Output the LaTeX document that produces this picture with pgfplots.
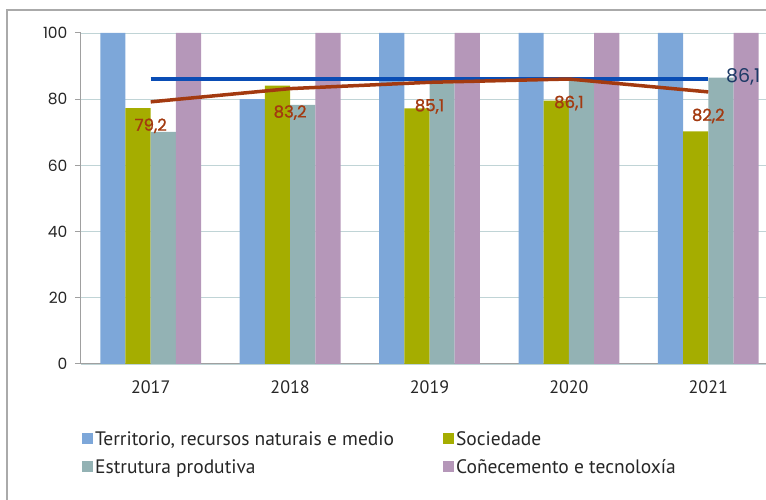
\documentclass[border=0pt]{standalone}
\usepackage{pgfplots}
\pgfplotsset{compat=1.18}
\usepackage{fontspec}
\setmainfont{PT Sans}
\newfontfamily\poppins{Poppins}
\newfontfamily\poppinsm{Poppins}[FakeBold=1.2]
\definecolor{terr}{RGB}{125,167,217}
\definecolor{soc}{RGB}{165,173,0}
\definecolor{estr}{RGB}{147,178,180}
\definecolor{cone}{RGB}{181,151,185}
\definecolor{redl}{RGB}{163,58,16}
\definecolor{bluel}{RGB}{10,77,181}
\definecolor{navyl}{RGB}{28,58,102}
\definecolor{gridc}{RGB}{192,212,214}
\definecolor{axisc}{RGB}{160,160,160}
\definecolor{framec}{RGB}{170,170,170}
\begin{document}
\begin{tikzpicture}
\path[use as bounding box] (-81pt,-136pt) rectangle (685pt,364pt);
\draw[framec, line width=1.3pt] (-74pt,-150pt) -- (-74pt,354pt) -- (700pt,354pt);
\begin{axis}[
  at={(0pt,0pt)}, anchor=south west,
  scale only axis, width=697pt, height=331pt,
  xmin=-0.5, xmax=4.5, ymin=0, ymax=100,
  ybar=0pt, bar width=25.2pt,
  xtick={0,1,2,3,4}, xticklabels={2017,2018,2019,2020,2021},
  ytick={0,20,40,60,80,100},
  /pgf/number format/assume math mode=true,
  axis x line*=bottom, axis y line*=left,
  axis line style={-, axisc, line width=1pt},
  ymajorgrids, grid style={gridc, line width=0.9pt},
  xtick style={draw=none},
  ytick style={axisc, line width=1pt},
  tick align=outside, major tick length=6pt,
  xticklabel style={font=\fontsize{18}{20}\selectfont, text=black!85, yshift=-7pt},
  yticklabel style={font=\poppins\fontsize{15.5}{18}\selectfont, text=black!85, xshift=-4pt},
  legend columns=2,
  legend style={at={(-0.003,-0.192)}, anchor=north west, draw=none, fill=none,
    font=\fontsize{19.5}{21}\selectfont, text=black!85,
    /tikz/column 2/.style={column sep=47pt}, row sep=8pt},
  legend cell align=left,
  legend image code/.code={\fill[#1] (0pt,-5pt) rectangle (11pt,6pt);},
]
\addplot[fill=terr, draw=none] coordinates {(0,100) (1,80) (2,100) (3,100) (4,100)};
\addlegendentry{Territorio, recursos naturais e medio}
\addplot[fill=soc, draw=none] coordinates {(0,77.3) (1,84.1) (2,77.2) (3,79.6) (4,70.3)};
\addlegendentry{Sociedade}
\addplot[fill=estr, draw=none] coordinates {(0,70.1) (1,78.3) (2,84.8) (3,85.8) (4,86.5)};
\addlegendentry{Estrutura produtiva}
\addplot[fill=cone, draw=none] coordinates {(0,100) (1,100) (2,100) (3,100) (4,100)};
\addlegendentry{Coñecemento e tecnoloxía}
\addplot[sharp plot, bluel, line width=3.2pt, mark=none, forget plot,
  nodes near coords, point meta=explicit symbolic,
  every node near coord/.style={anchor=west, xshift=13pt, yshift=2pt, text=navyl, font=\poppins\fontsize{19}{20}\selectfont}]
  coordinates {(0,86.1)[] (4,86.1)[86,1]};
\addplot[sharp plot, redl, line width=3.5pt, mark=none, forget plot,
  nodes near coords, point meta=explicit symbolic,
  every node near coord/.style={anchor=center, yshift=-24pt, text=redl, font=\poppinsm\fontsize{16.5}{18}\selectfont}]
  coordinates {(0,79.2)[79,2] (1,83.2)[83,2] (2,85.1)[85,1] (3,86.1)[86,1] (4,82.2)[82,2]};
\end{axis}
\end{tikzpicture}
\end{document}
